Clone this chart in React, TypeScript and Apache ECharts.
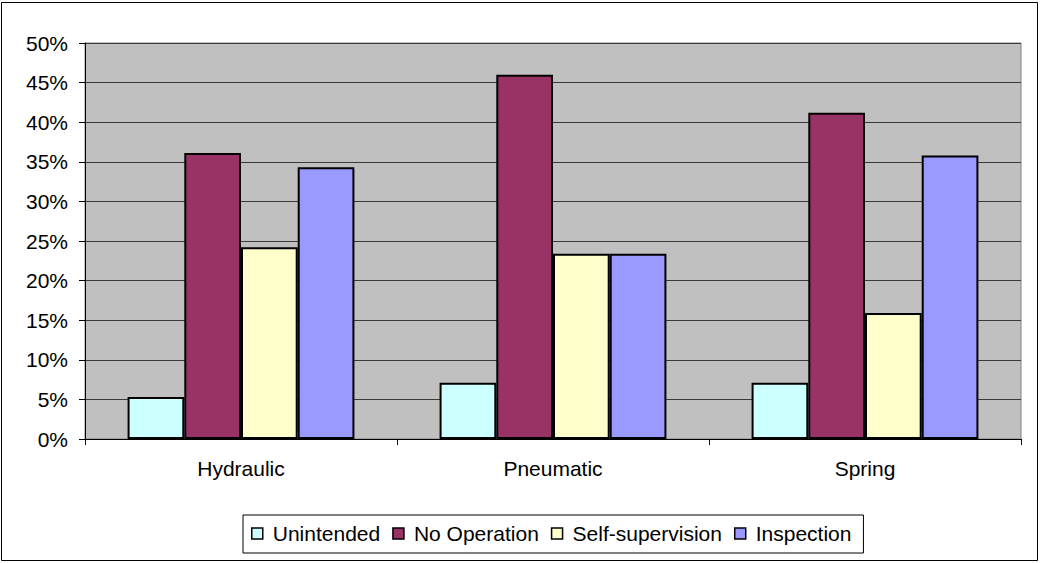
import React, { useEffect, useRef } from "react";
import * as echarts from "echarts";

const categories = ["Hydraulic", "Pneumatic", "Spring"];
const seriesNames = ["Unintended", "No Operation", "Self-supervision", "Inspection"];
const unintended = [5.3, 7.1, 7.1];
const noOperation = [36.1, 46.0, 41.2];
const selfSupervision = [24.2, 23.4, 15.9];
const inspection = [34.3, 23.4, 35.8];
const colors = ["#CCFFFF", "#993366", "#FFFFCC", "#9999FF"];
const yTicks = { min: 0, max: 50, interval: 5 };

const FONT = "'Liberation Sans', Arial, sans-serif";

export default function App() {
  const ref = useRef<HTMLDivElement>(null);
  useEffect(() => {
    if (!ref.current) return;
    const chart = echarts.init(ref.current, undefined, { renderer: "svg" });
    const values = [unintended, noOperation, selfSupervision, inspection];
    chart.setOption({
      animation: false,
      backgroundColor: "#ffffff",
      textStyle: { fontFamily: FONT },
      grid: {
        left: 85,
        top: 43,
        right: 19,
        bottom: 124,
        show: true,
        backgroundColor: "#C0C0C0",
        borderColor: "#808080",
        borderWidth: 1,
      },
      graphic: [
        {
          type: "rect",
          shape: { x: 1.5, y: 2.5, width: 1036, height: 558 },
          style: { fill: "none", stroke: "#000", lineWidth: 1 },
          silent: true,
          z: -1,
        },
      ],
      legend: {
        left: 243,
        top: 515,
        orient: "horizontal",
        data: seriesNames,
        icon: "rect",
        itemWidth: 11,
        itemHeight: 11,
        itemGap: 12,
        padding: [8, 12, 9, 8],
        borderColor: "#000",
        borderWidth: 1,
        backgroundColor: "#fff",
        itemStyle: { borderColor: "#000", borderWidth: 1.5 },
        textStyle: { fontFamily: FONT, fontSize: 21, color: "#000", padding: [0, 0, 0, 5] },
      },
      xAxis: {
        type: "category",
        data: categories,
        axisLine: { lineStyle: { color: "#000", width: 1 } },
        axisTick: { show: true, length: 6, lineStyle: { color: "#000" } },
        axisLabel: { fontFamily: FONT, fontSize: 21, color: "#000", margin: 19 },
        splitLine: { show: false },
      },
      yAxis: {
        type: "value",
        min: yTicks.min,
        max: yTicks.max,
        interval: yTicks.interval,
        axisLine: { show: true, lineStyle: { color: "#000", width: 1 } },
        axisTick: { show: true, length: 6, lineStyle: { color: "#000" } },
        axisLabel: {
          fontFamily: FONT,
          fontSize: 21,
          color: "#000",
          margin: 17,
          formatter: (v: number) => `${v}%`,
        },
        splitLine: { show: true, lineStyle: { color: "#3a3a3a", width: 1 } },
      },
      series: seriesNames.map((name, i) => ({
        name,
        type: "bar",
        data: values[i],
        barGap: "0%",
        barCategoryGap: "27.3%",
        itemStyle: { color: colors[i], borderColor: "#000", borderWidth: 2 },
      })),
    });
    return () => chart.dispose();
  }, []);
  return (
    <div
      ref={ref}
      style={{ position: "fixed", left: 0, top: 0, width: 1040, height: 563 }}
    />
  );
}
